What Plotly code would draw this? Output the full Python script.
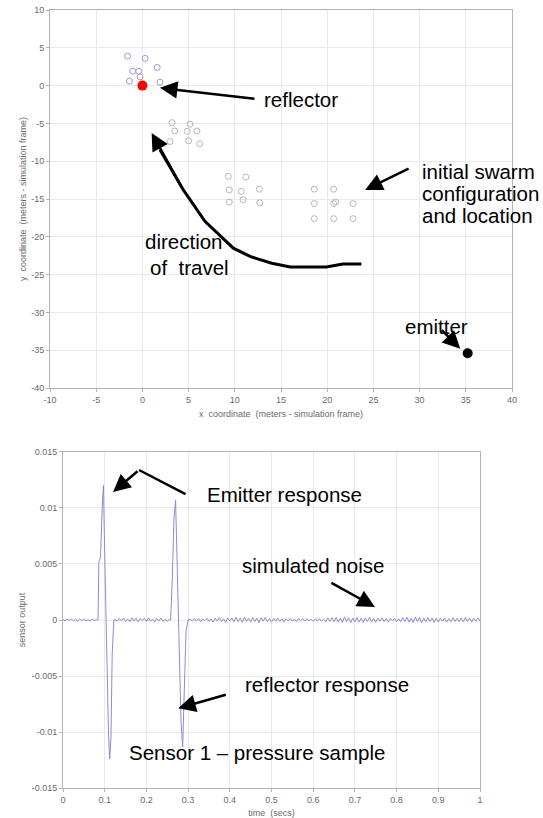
import plotly.graph_objects as go

# ---------------- top panel data ----------------
reflector_x = [0.0]
reflector_y = [0.0]
emitter_x = [35.2]
emitter_y = [-35.4]

swarm_near_x = [-1.6, 0.3, 1.6, -1.05, -0.4, -0.25, -1.4, 1.9]
swarm_near_y = [3.9, 3.6, 2.4, 1.9, 1.9, 1.15, 0.6, 0.45]

swarm_mid_x = [3.2, 3.5, 3.0, 5.15, 4.85, 5.9, 5.0, 6.2]
swarm_mid_y = [-4.9, -6.0, -7.4, -5.1, -6.05, -6.0, -7.3, -7.7]

swarm_b_x = [9.3, 11.2, 9.4, 10.7, 12.65, 9.4, 10.9, 12.7]
swarm_b_y = [-12.0, -12.1, -13.8, -14.0, -13.7, -15.4, -15.1, -15.5]

swarm_init_x = [18.6, 20.7, 18.6, 20.7, 20.9, 22.8, 18.6, 20.7, 22.8]
swarm_init_y = [-13.7, -13.7, -15.6, -15.6, -15.4, -15.6, -17.6, -17.6, -17.6]

travel_x = [23.7, 21.7, 19.9, 16.0, 14.0, 11.65, 9.84, 6.77, 4.43, 1.9]
travel_y = [-23.6, -23.6, -24.0, -24.0, -23.5, -22.6, -21.5, -17.95, -13.8, -8.5]

top_xticks = [-10, -5, 0, 5, 10, 15, 20, 25, 30, 35, 40]
top_yticks = [10, 5, 0, -5, -10, -15, -20, -25, -30, -35, -40]

# ---------------- bottom panel data ----------------
time_s = [
    0.000, 0.005, 0.010, 0.015, 0.020, 0.025, 0.030, 0.035, 0.040, 0.045,
    0.050, 0.055, 0.060, 0.065, 0.070, 0.075, 0.080,
    0.084, 0.086, 0.090, 0.094, 0.097, 0.100, 0.103, 0.106, 0.109, 0.112,
    0.115, 0.118, 0.122,
    0.125, 0.130, 0.135, 0.140, 0.145, 0.150, 0.155, 0.160, 0.165, 0.170,
    0.175, 0.180, 0.185, 0.190, 0.195, 0.200, 0.205, 0.210, 0.215, 0.220,
    0.225, 0.230, 0.235, 0.240, 0.245, 0.250, 0.255,
    0.258, 0.262, 0.266, 0.270, 0.273, 0.276, 0.279, 0.283, 0.287, 0.291,
    0.295, 0.300,
    0.305, 0.310, 0.315, 0.320, 0.325, 0.330, 0.335, 0.340, 0.345, 0.350,
    0.355, 0.360, 0.365, 0.370, 0.375, 0.380, 0.385, 0.390, 0.395, 0.400,
    0.405, 0.410, 0.415, 0.420, 0.425, 0.430, 0.435, 0.440, 0.445, 0.450,
    0.455, 0.460, 0.465, 0.470, 0.475, 0.480, 0.485, 0.490, 0.495, 0.500,
    0.505, 0.510, 0.515, 0.520, 0.525, 0.530, 0.535, 0.540, 0.545, 0.550,
    0.555, 0.560, 0.565, 0.570, 0.575, 0.580, 0.585, 0.590, 0.595, 0.600,
    0.605, 0.610, 0.615, 0.620, 0.625, 0.630, 0.635, 0.640, 0.645, 0.650,
    0.655, 0.660, 0.665, 0.670, 0.675, 0.680, 0.685, 0.690, 0.695, 0.700,
    0.705, 0.710, 0.715, 0.720, 0.725, 0.730, 0.735, 0.740, 0.745, 0.750,
    0.755, 0.760, 0.765, 0.770, 0.775, 0.780, 0.785, 0.790, 0.795, 0.800,
    0.805, 0.810, 0.815, 0.820, 0.825, 0.830, 0.835, 0.840, 0.845, 0.850,
    0.855, 0.860, 0.865, 0.870, 0.875, 0.880, 0.885, 0.890, 0.895, 0.900,
    0.905, 0.910, 0.915, 0.920, 0.925, 0.930, 0.935, 0.940, 0.945, 0.950,
    0.955, 0.960, 0.965, 0.970, 0.975, 0.980, 0.985, 0.990, 0.995, 1.000,
]

sensor_output = [
    0.00004, -0.00006, 0.00008, -0.00003, 0.00010, -0.00008, 0.00005, -0.00010, 0.00007, -0.00005,
    0.00009, -0.00008, 0.00003, -0.00009, 0.00008, -0.00004, 0.00002,
    0.0, 0.0052, 0.0056, 0.0100, 0.0120, 0.0060, 0.0000, -0.0050, -0.0100, -0.0124,
    -0.0105, -0.0030, 0.0,
    0.00006, -0.00012, 0.00015, -0.00008, 0.00018, -0.00014, 0.00010, -0.00016, 0.00020, -0.00010,
    0.00014, -0.00018, 0.00012, -0.00006, 0.00016, -0.00015, 0.00019, -0.00011, 0.00008, -0.00017,
    0.00013, -0.00009, 0.00017, -0.00013, 0.00007, -0.00010, 0.00005,
    0.0, 0.0035, 0.0090, 0.0107, 0.0060, 0.0010, -0.0040, -0.0090, -0.0113, -0.0070,
    -0.0010, 0.0,
    0.00008, -0.00011, 0.00014, -0.00007, 0.00012, -0.00016, 0.00009, -0.00005, 0.00015, -0.00012,
    0.00010, -0.00018, 0.00016, -0.00009, 0.00021, -0.00014, 0.00011, -0.00020, 0.00017, -0.00008,
    0.00019, -0.00015, 0.00024, -0.00012, 0.00018, -0.00021, 0.00026, -0.00010, 0.00015, -0.00019,
    0.00022, -0.00013, 0.00017, -0.00024, 0.00020, -0.00011, 0.00023, -0.00016, 0.00012, -0.00018,
    0.00014, -0.00009, 0.00016, -0.00013, 0.00010, -0.00017, 0.00012, -0.00008, 0.00015, -0.00011,
    0.00009, -0.00014, 0.00012, -0.00006, 0.00011, -0.00010, 0.00013, -0.00008, 0.00007, -0.00012,
    0.00010, -0.00007, 0.00013, -0.00011, 0.00008, -0.00015, 0.00018, -0.00012, 0.00021, -0.00017,
    0.00024, -0.00019, 0.00016, -0.00023, 0.00027, -0.00014, 0.00020, -0.00025, 0.00018, -0.00016,
    0.00022, -0.00018, 0.00015, -0.00021, 0.00019, -0.00012, 0.00024, -0.00017, 0.00013, -0.00020,
    0.00016, -0.00011, 0.00019, -0.00015, 0.00012, -0.00018, 0.00014, -0.00009, 0.00017, -0.00013,
    0.00011, -0.00016, 0.00020, -0.00012, 0.00023, -0.00019, 0.00015, -0.00022, 0.00026, -0.00014,
    0.00021, -0.00025, 0.00018, -0.00016, 0.00022, -0.00013, 0.00019, -0.00021, 0.00016, -0.00018,
    0.00014, -0.00010, 0.00017, -0.00019, 0.00013, -0.00015, 0.00020, -0.00012, 0.00016, -0.00014,
    0.00019, -0.00016, 0.00022, -0.00013, 0.00018, -0.00020, 0.00015, -0.00011, 0.00017, -0.00009,
]

bot_xticks = [0, 0.1, 0.2, 0.3, 0.4, 0.5, 0.6, 0.7, 0.8, 0.9, 1]
bot_xtick_text = ["0", "0.1", "0.2", "0.3", "0.4", "0.5", "0.6", "0.7", "0.8", "0.9", "1"]
bot_yticks = [0.015, 0.01, 0.005, 0, -0.005, -0.01, -0.015]
bot_ytick_text = ["0.015", "0.01", "0.005", "0", "-0.005", "-0.01", "-0.015"]
top_xtick_text = [str(v) for v in top_xticks]
top_ytick_text = [str(v) for v in top_yticks]

# ---------------- figure ----------------
W, H = 543, 818
FONT = "Liberation Sans, Arial, sans-serif"
TICKC = "#6a6a6a"
GRID = "#e9e9e9"
LINEC = "#b3b3b3"

fig = go.Figure()

grey_marker = dict(symbol="circle-open", size=6, color="#b8b8b8", line=dict(width=1, color="#b8b8b8"))
fig.add_trace(go.Scatter(x=swarm_init_x, y=swarm_init_y, mode="markers", marker=grey_marker, xaxis="x", yaxis="y"))
fig.add_trace(go.Scatter(x=swarm_b_x, y=swarm_b_y, mode="markers", marker=grey_marker, xaxis="x", yaxis="y"))
fig.add_trace(go.Scatter(x=swarm_mid_x, y=swarm_mid_y, mode="markers", marker=grey_marker, xaxis="x", yaxis="y"))
fig.add_trace(go.Scatter(x=swarm_near_x, y=swarm_near_y, mode="markers",
                         marker=dict(symbol="circle-open", size=6, color="#9c9ccc", line=dict(width=1, color="#9c9ccc")),
                         xaxis="x", yaxis="y"))
fig.add_trace(go.Scatter(x=travel_x, y=travel_y, mode="lines", line=dict(color="black", width=3),
                         xaxis="x", yaxis="y"))
fig.add_trace(go.Scatter(x=reflector_x, y=reflector_y, mode="markers",
                         marker=dict(size=10, color="#ff0000"), xaxis="x", yaxis="y"))
fig.add_trace(go.Scatter(x=emitter_x, y=emitter_y, mode="markers",
                         marker=dict(size=10, color="black"), xaxis="x", yaxis="y"))

fig.add_trace(go.Scatter(x=time_s, y=sensor_output, mode="lines",
                         line=dict(color="#8c8cd0", width=1), xaxis="x2", yaxis="y2"))

axis_common = dict(showgrid=True, gridcolor=GRID, gridwidth=1, zeroline=False,
                   showline=True, linecolor=LINEC, linewidth=1, mirror=True,
                   ticks="outside", ticklen=3, tickcolor=LINEC, automargin=False,
                   tickfont=dict(family=FONT, size=9, color=TICKC))
TITLEF = dict(family=FONT, size=9, color=TICKC)

fig.update_layout(
    width=W, height=H,
    margin=dict(l=0, r=0, t=0, b=0),
    paper_bgcolor="white", plot_bgcolor="white",
    showlegend=False,
    xaxis=dict(domain=[50 / W, 512 / W], range=[-10, 40], tickvals=top_xticks, ticktext=top_xtick_text,
               title=dict(text="x  coordinate  (meters - simulation frame)", standoff=6, font=TITLEF),
               anchor="y", **axis_common),
    yaxis=dict(domain=[1 - 388 / H, 1 - 10 / H], range=[-40, 10], tickvals=top_yticks, ticktext=top_ytick_text,
               title=dict(text="y  coordinate  (meters - simulation frame)", standoff=3, font=TITLEF),
               anchor="x", **axis_common),
    xaxis2=dict(domain=[63 / W, 480 / W], range=[0, 1], tickvals=bot_xticks, ticktext=bot_xtick_text,
                title=dict(text="time  (secs)", standoff=6, font=TITLEF),
                anchor="y2", **axis_common),
    yaxis2=dict(domain=[1 - 788.3 / H, 1 - 451.7 / H], range=[-0.015, 0.015], tickvals=bot_yticks,
                ticktext=bot_ytick_text,
                title=dict(text="sensor output", standoff=4, font=TITLEF),
                anchor="x2", **axis_common),
)

TXT = dict(family=FONT, size=20.5, color="black")


def label(text, x, y, xref, yref, xanchor="left"):
    fig.add_annotation(text=text, x=x, y=y, xref=xref, yref=yref, showarrow=False,
                       xanchor=xanchor, yanchor="middle", font=TXT)


def arrow(x, y, ax, ay, xref, yref, head=True):
    fig.add_annotation(text="", x=x, y=y, xref=xref, yref=yref, ax=ax, ay=ay,
                       showarrow=True, arrowhead=2 if head else 0, arrowsize=1.4,
                       arrowwidth=2.5, arrowcolor="black", standoff=0, startstandoff=0)


# top panel callouts
label("reflector", 12.9, -1.85, "x", "y")
arrow(1.9, -0.3, 96, 11, "x", "y")
label("initial swarm", 30.0, -11.4, "x", "y")
label("configuration", 30.0, -14.3, "x", "y")
label("and location", 30.0, -17.2, "x", "y")
arrow(24.1, -13.8, 45, -22, "x", "y")
label("direction", 0.06, -20.6, "x", "y")
label("of  travel", 0.6, -24.1, "x", "y")
arrow(1.0, -6.26, 31, 56, "x", "y")
label("emitter", 28.2, -31.9, "x", "y")
arrow(34.4, -34.8, -20, -20, "x", "y")

# bottom panel callouts
label("Emitter response", 0.3405, 0.01123, "x2", "y2")
arrow(0.12, 0.01141, 26, -22, "x2", "y2")
arrow(0.1823, 0.01337, 0.2974, 0.01114, "x2", "y2", head=False)
fig.layout.annotations[-1].update(axref="x2", ayref="y2")
label("simulated noise", 0.5995, 0.0049, "x2", "y2", xanchor="center")
arrow(0.748, 0.00116, -45, -25, "x2", "y2")
label("reflector response", 0.4317, -0.00579, "x2", "y2")
arrow(0.2765, -0.00787, 49, -14, "x2", "y2")
label("Sensor 1 \u2013 pressure sample", 0.153, -0.01185, "x2", "y2")

fig.write_html("out.html", config={"displayModeBar": False},
               post_script="document.body.style.margin='0px';document.body.style.overflow='hidden';")
